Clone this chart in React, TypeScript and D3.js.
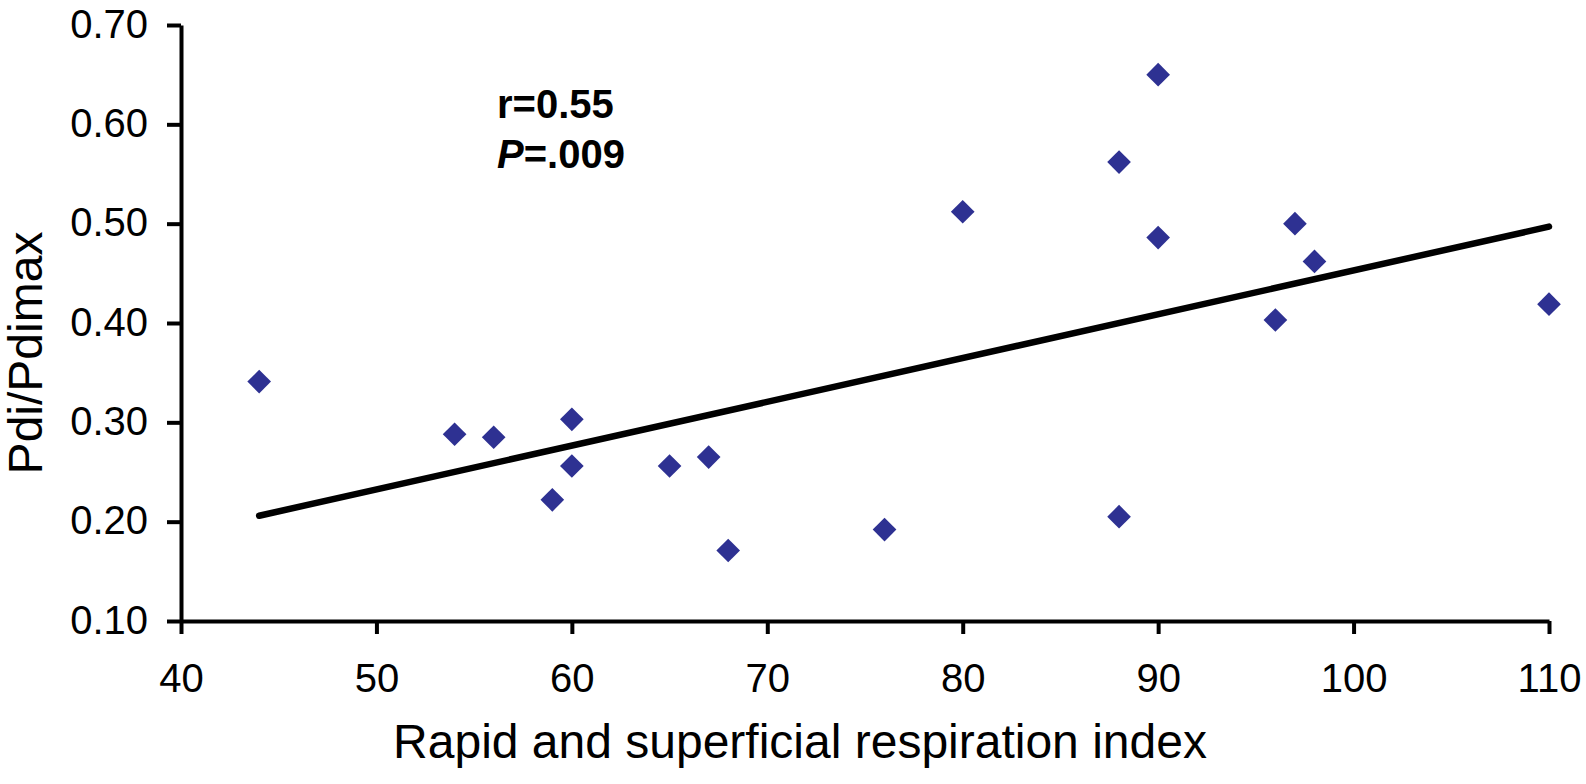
import { useEffect, useRef } from "react";
import * as d3 from "d3";

// Rapid and superficial respiration index vs Pdi/Pdimax
const rsiValues = [44, 54, 56, 59, 60, 60, 65, 67, 68, 76, 80, 88, 88, 90, 90, 96, 97, 98, 110];
const pdiValues = [
  0.341, 0.288, 0.285, 0.222, 0.303, 0.256, 0.256, 0.265, 0.171, 0.192,
  0.512, 0.562, 0.205, 0.65, 0.486, 0.403, 0.5, 0.462, 0.419,
];

// fitted regression line, read at its two ends
const trendX = [44, 110];
const trendY = [0.206, 0.497];

const xTicks = [40, 50, 60, 70, 80, 90, 100, 110];
const yTicks = [0.1, 0.2, 0.3, 0.4, 0.5, 0.6, 0.7];

const WIDTH = 1586;
const HEIGHT = 784;
const FONT = "'Liberation Sans', Arial, Helvetica, sans-serif";

export default function App() {
  const svgRef = useRef<SVGSVGElement>(null);

  useEffect(() => {
    if (!svgRef.current) return;
    const svg = d3.select(svgRef.current);
    svg.selectAll("*").remove();

    const x = d3.scaleLinear().domain([40, 110]).range([181, 1549]);
    const y = d3.scaleLinear().domain([0.1, 0.7]).range([621, 25]);

    // axes
    const xAxis = svg
      .append("g")
      .attr("transform", `translate(0,${y(0.1)})`)
      .call(d3.axisBottom(x).tickValues(xTicks).tickSize(13).tickSizeOuter(0).tickPadding(58).tickFormat(d3.format("d")));

    const yAxis = svg
      .append("g")
      .attr("transform", `translate(${x(40)},0)`)
      .call(d3.axisLeft(y).tickValues(yTicks).tickSize(14).tickSizeOuter(0).tickPadding(19).tickFormat(d3.format(".2f")));

    [xAxis, yAxis].forEach((g) => {
      g.select(".domain").attr("stroke", "#000").attr("stroke-width", 4);
      g.selectAll(".tick line").attr("stroke", "#000").attr("stroke-width", 4);
      g.selectAll(".tick text")
        .attr("fill", "#000")
        .attr("font-family", FONT)
        .attr("font-size", 40);
    });
    yAxis.selectAll(".tick text").attr("dy", "0.3em");
    xAxis.selectAll(".tick text").attr("dy", "0");

    // trend line
    const line = d3
      .line<number>()
      .x((d) => x(d))
      .y((_, i) => y(trendY[i]));

    svg
      .append("path")
      .attr("d", line(trendX))
      .attr("fill", "none")
      .attr("stroke", "#000")
      .attr("stroke-width", 6.5)
      .attr("stroke-linecap", "round");

    // points (diamonds)
    const diamond = d3.symbol().type(d3.symbolSquare).size(280);
    svg
      .append("g")
      .selectAll("path")
      .data(rsiValues)
      .join("path")
      .attr("d", diamond())
      .attr("transform", (d, i) => `translate(${x(d)},${y(pdiValues[i])}) rotate(45)`)
      .attr("fill", "#2e3192");

    // axis titles
    svg
      .append("text")
      .attr("x", 800)
      .attr("y", 758)
      .attr("text-anchor", "middle")
      .attr("font-family", FONT)
      .attr("font-size", 48)
      .attr("fill", "#000")
      .text("Rapid and superficial respiration index");

    svg
      .append("text")
      .attr("transform", "translate(42,353) rotate(-90)")
      .attr("text-anchor", "middle")
      .attr("font-family", FONT)
      .attr("font-size", 48)
      .attr("fill", "#000")
      .text("Pdi/Pdimax");

    // statistics annotation
    const stats = svg
      .append("g")
      .attr("font-family", FONT)
      .attr("font-size", 40)
      .attr("font-weight", "bold")
      .attr("fill", "#000");

    stats.append("text").attr("x", 497).attr("y", 118).text("r=0.55");

    const p = stats.append("text").attr("x", 497).attr("y", 168);
    p.append("tspan").attr("font-style", "italic").text("P");
    p.append("tspan").text("=.009");
  }, []);

  return (
    <div style={{ position: "absolute", left: 0, top: 0, background: "#fff" }}>
      <svg ref={svgRef} width={WIDTH} height={HEIGHT} style={{ display: "block" }} />
    </div>
  );
}
